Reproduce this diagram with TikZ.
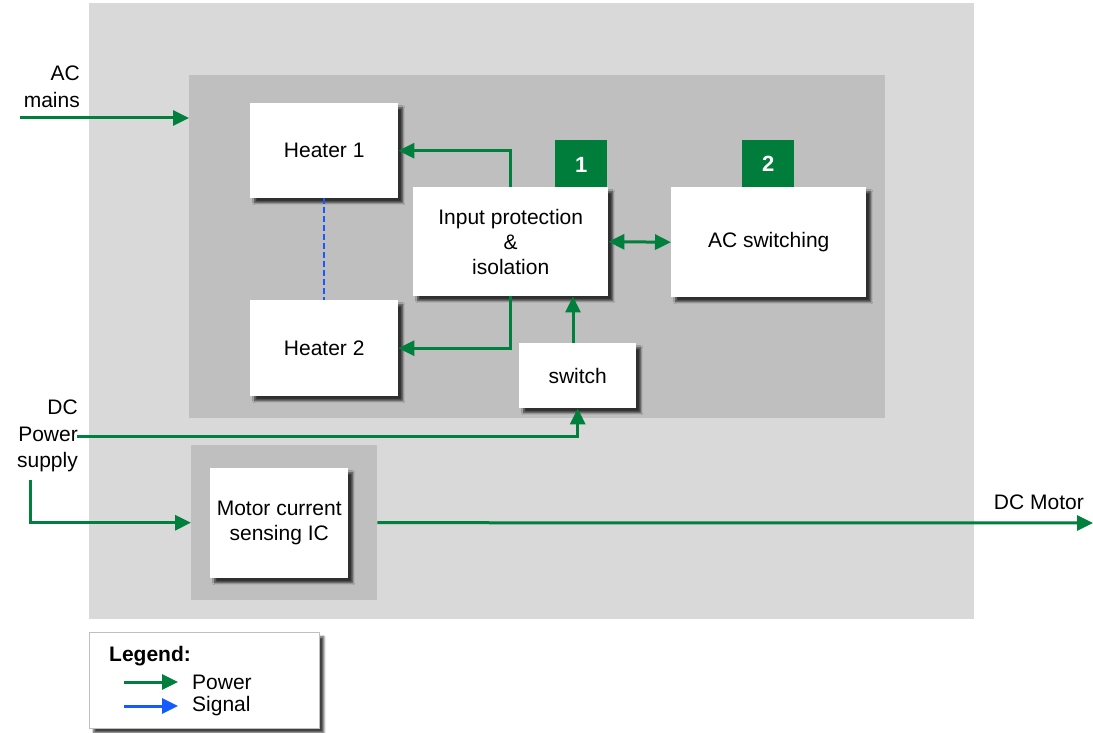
\documentclass[tikz,border=0pt]{standalone}
\usepackage{fontspec}
\setmainfont{Liberation Sans}
\usetikzlibrary{arrows.meta,shadows,shadows.blur,calc}
\definecolor{pgreen}{RGB}{0,128,60}
\definecolor{bgreen}{RGB}{0,125,58}
\definecolor{sblue}{RGB}{20,90,255}
\definecolor{lgray}{HTML}{D9D9D9}
\definecolor{dgray}{HTML}{BFBFBF}
\tikzset{
  panel/.style={fill=#1, draw=none, anchor=north west, inner sep=0pt},
  blockbox/.style={fill=white, draw=none, anchor=north west, align=center, inner sep=2pt,
    blur shadow={shadow xshift=4.5pt, shadow yshift=-4.5pt, shadow blur steps=6, shadow opacity=75}},
  badge/.style={fill=bgreen, text=white, anchor=north west, inner sep=0pt, font=\bfseries\fontsize{22}{24}\selectfont},
  pw/.style={draw=pgreen, line width=3pt, -{Triangle[length=16pt,width=15pt]}},
  pwline/.style={draw=pgreen, line width=3pt},
  sig/.style={draw=sblue, line width=2pt},
  lbl/.style={align=right, inner sep=0pt}
}
\begin{document}
\begin{tikzpicture}[x=1pt,y=-1pt, font=\fontsize{21}{26.5}\selectfont]
\useasboundingbox (0,0) rectangle (1093,733);
% panels
\node[panel=lgray, minimum width=885pt, minimum height=616pt] (outer) at (89,3) {};
\node[panel=dgray, minimum width=696pt, minimum height=343pt] (inner) at (189,75) {};
\node[panel=dgray, minimum width=186pt, minimum height=155pt] (mg) at (191,445) {};
% badges
\node[badge, minimum width=52pt, minimum height=50pt] (b1) at (555,140) {1};
\node[badge, minimum width=52pt, minimum height=47pt] (b2) at (742,140) {2};
% blocks
\node[blockbox, minimum width=148pt, minimum height=95pt] (h1) at (250,103) {Heater 1};
\node[blockbox, minimum width=148pt, minimum height=96pt] (h2) at (250,300) {Heater 2};
\node[blockbox, minimum width=195pt, minimum height=109pt, font=\fontsize{21}{25}\selectfont] (ip) at (413,187) {Input protection\\\&\\isolation};
\node[blockbox, minimum width=195pt, minimum height=110pt] (acs) at (671,187) {AC switching};
\node[blockbox, minimum width=117pt, minimum height=65pt] (sw) at (519,343) {switch};
\node[blockbox, minimum width=138pt, minimum height=110pt, font=\fontsize{21}{25}\selectfont] (mc) at (210,468) {Motor current\\sensing IC};
% outside labels
\node[lbl, anchor=east] (acm) at (80,87) {AC\\mains};
\node[lbl, anchor=east] (dcps) at (78,436) {DC\\Power\\supply};
\node[lbl, anchor=east] (dcmot) at (1084,502) {DC Motor};
% coordinates
\coordinate (acin) at (20,118);
\coordinate (dcp) at (77,436);
\coordinate (dcs) at (30,480);
\coordinate (dcm) at (1093,523);
\coordinate (xsw) at (573,0);
% connectors
\draw[pw] (acin) -- (acin -| inner.west);
\draw[pw] (ip.north) |- (h1.east);
\draw[pw] (ip.south) |- (h2.east);
\draw[pwline, {Triangle[length=16pt,width=15pt]}-{Triangle[length=16pt,width=15pt]}] (ip.east) -- (acs.west);
\draw[pw] (sw.north -| xsw) -- (ip.south -| xsw);
\draw[pw] (dcp) -| (sw.south);
\draw[pw] (dcs) |- (mg.west);
\draw[pw] (mg.east) -- (dcm);
\draw[sig, dash pattern=on 6pt off 3pt] (h1.south) -- (h2.north);
% legend
\node[fill=white, draw=gray!50, line width=0.6pt, anchor=north west, minimum width=230pt, minimum height=96pt,
  blur shadow={shadow xshift=4.5pt, shadow yshift=-4.5pt, shadow blur steps=6, shadow opacity=75}] (leg) at (89,632) {};
\node[anchor=west, inner sep=0pt, font=\bfseries\fontsize{21}{24}\selectfont] (legt) at (109,656) {Legend:};
\coordinate (lp1) at (124,682);
\coordinate (lp2) at (178,682);
\coordinate (ls1) at (124,706);
\coordinate (ls2) at (178,706);
\draw[pw] (lp1) -- (lp2);
\draw[sig, line width=3pt, -{Triangle[length=16pt,width=15pt]}] (ls1) -- (ls2);
\node[anchor=west, inner sep=0pt] (lpw) at (192,682) {Power};
\node[anchor=west, inner sep=0pt] (lsg) at (192,706) {Signal};
\end{tikzpicture}
\end{document}
